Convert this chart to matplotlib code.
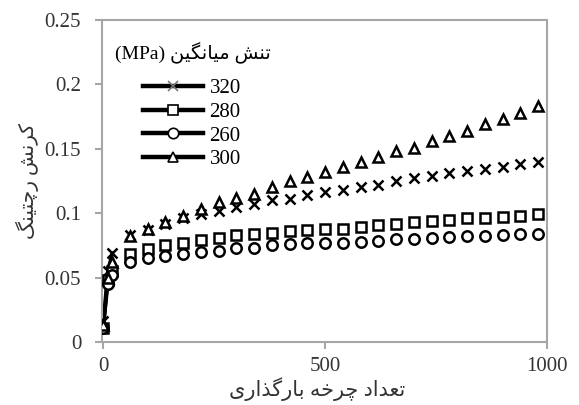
import numpy as np
import matplotlib
matplotlib.use("Agg")
import matplotlib.pyplot as plt
from matplotlib.lines import Line2D
from matplotlib.font_manager import FontProperties

# ---- data ----
cycles = [0, 10, 20, 60, 100, 140, 180, 220, 260, 300, 340, 380, 420, 460, 500,
          540, 580, 620, 660, 700, 740, 780, 820, 860, 900, 940, 980]
s320 = [0.016, 0.055, 0.069, 0.083, 0.087, 0.092, 0.096, 0.0997, 0.102, 0.105,
        0.1075, 0.110, 0.1114, 0.114, 0.1165, 0.118, 0.120, 0.122, 0.125, 0.1276,
        0.129, 0.131, 0.133, 0.134, 0.136, 0.138, 0.140]
s280 = [0.011, 0.048, 0.055, 0.068, 0.072, 0.075, 0.0765, 0.0795, 0.081, 0.083,
        0.0835, 0.085, 0.086, 0.087, 0.0875, 0.088, 0.089, 0.091, 0.092, 0.093,
        0.094, 0.095, 0.096, 0.0966, 0.097, 0.098, 0.099]
s260 = [0.011, 0.045, 0.052, 0.062, 0.065, 0.067, 0.0687, 0.070, 0.0705, 0.0726,
        0.073, 0.0752, 0.076, 0.0765, 0.0767, 0.077, 0.0777, 0.0785, 0.0796, 0.080,
        0.0805, 0.0816, 0.082, 0.0824, 0.0832, 0.0837, 0.0842]
s300 = [0.013, 0.050, 0.062, 0.082, 0.088, 0.093, 0.098, 0.103, 0.109, 0.112,
        0.115, 0.120, 0.125, 0.128, 0.132, 0.136, 0.140, 0.144, 0.148, 0.151,
        0.156, 0.160, 0.164, 0.169, 0.173, 0.178, 0.183]
series_labels = ["320", "280", "260", "300"]
series_markers = ["x", "s", "o", "^"]
yticks = [0, 0.05, 0.1, 0.15, 0.2, 0.25]
ytick_labels = ["0", "0.05", "0.1", "0.15", "0.2", "0.25"]
xticks = [0, 500, 1000]

xlabel_fa = "تعداد چرخه بارگذاری"
ylabel_fa = "کرنش رچتینگ"
legend_title_fa = "تنش میانگین"

# minimal persian shaping (presentation forms), then visual order
FORMS = {
    'ا': ('\uFE8D', '\uFE8E', None, None),
    'ب': ('\uFE8F', '\uFE90', '\uFE91', '\uFE92'),
    'ت': ('\uFE95', '\uFE96', '\uFE97', '\uFE98'),
    'خ': ('\uFEA5', '\uFEA6', '\uFEA7', '\uFEA8'),
    'د': ('\uFEA9', '\uFEAA', None, None),
    'ذ': ('\uFEAB', '\uFEAC', None, None),
    'ر': ('\uFEAD', '\uFEAE', None, None),
    'ش': ('\uFEB5', '\uFEB6', '\uFEB7', '\uFEB8'),
    'ع': ('\uFEC9', '\uFECA', '\uFECB', '\uFECC'),
    'م': ('\uFEE1', '\uFEE2', '\uFEE3', '\uFEE4'),
    'ن': ('\uFEE5', '\uFEE6', '\uFEE7', '\uFEE8'),
    'ه': ('\uFEE9', '\uFEEA', '\uFEEB', '\uFEEC'),
    'چ': ('\uFB7A', '\uFB7B', '\uFB7C', '\uFB7D'),
    'ک': ('\uFB8E', '\uFB8F', '\uFB90', '\uFB91'),
    'گ': ('\uFB92', '\uFB93', '\uFB94', '\uFB95'),
    'ی': ('\uFBFC', '\uFBFD', '\uFBFE', '\uFBFF'),
}


def fa(text):
    out = []
    for i, c in enumerate(text):
        if c not in FORMS:
            out.append(c)
            continue
        iso, fin, ini, med = FORMS[c]
        prev = text[i - 1] if i > 0 else None
        nxt = text[i + 1] if i < len(text) - 1 else None
        jp = prev in FORMS and FORMS[prev][2] is not None
        jn = nxt in FORMS and ini is not None
        if jp and jn:
            out.append(med)
        elif jp:
            out.append(fin)
        elif jn:
            out.append(ini)
        else:
            out.append(iso)
    return "".join(reversed(out))


serif = ["Liberation Serif", "DejaVu Sans"]
grey = "#a6a6a6"
txt = "#333333"

fig = plt.figure(figsize=(5.79, 4.05), dpi=100)
ax = fig.add_axes([102 / 579, 63 / 405, 445 / 579, 322 / 405])

all_series = [s320, s280, s260, s300]
handles = []
for vals, lab, mk in zip(all_series, series_labels, series_markers):
    ax.plot(cycles[:3], vals[:3], color="k", lw=2.5, zorder=2)
    ax.plot(cycles, vals, ls="none", marker=mk, ms=7.5, mfc="white", mec="k",
            mew=1.8, zorder=3)
    handles.append(Line2D([], [], color="k", lw=3.2, marker=mk, ms=7.5,
                          mfc="white", mec="#777777" if mk == "x" else "k", mew=1.2))

ax.set_xlim(-3, 1000)
ax.set_ylim(0, 0.25)
ax.set_xticks(xticks)
ax.set_yticks(yticks)
ax.set_yticklabels(ytick_labels)
for s in ax.spines.values():
    s.set_color(grey)
    s.set_linewidth(1.5)
ax.tick_params(axis="both", direction="out", length=5, width=1.5, color=grey,
               labelcolor=txt, labelsize=15)
ax.tick_params(axis="y", pad=10)
ax.tick_params(axis="x", pad=6)
for lb in ax.get_xticklabels() + ax.get_yticklabels():
    lb.set_family(serif)

ax.set_xlabel(fa(xlabel_fa), family=serif, fontsize=15, color=txt)
ax.xaxis.set_label_coords(0.483, -0.108)
ax.set_ylabel(fa(ylabel_fa), family=serif, fontsize=14.5, color=txt, labelpad=4)

ax.text(0.03, 0.897, "(MPa) " + fa(legend_title_fa), transform=ax.transAxes,
        family=serif, fontsize=14, color="k", ha="left", va="center")
ax.legend(handles, series_labels, loc="upper left", bbox_to_anchor=(0.092, 0.818),
          frameon=False, handlelength=2.9, handletextpad=0.3, labelspacing=0.2,
          borderpad=0, borderaxespad=0,
          prop=FontProperties(family=serif, size=15))

fig.savefig("out.png", dpi=100)
